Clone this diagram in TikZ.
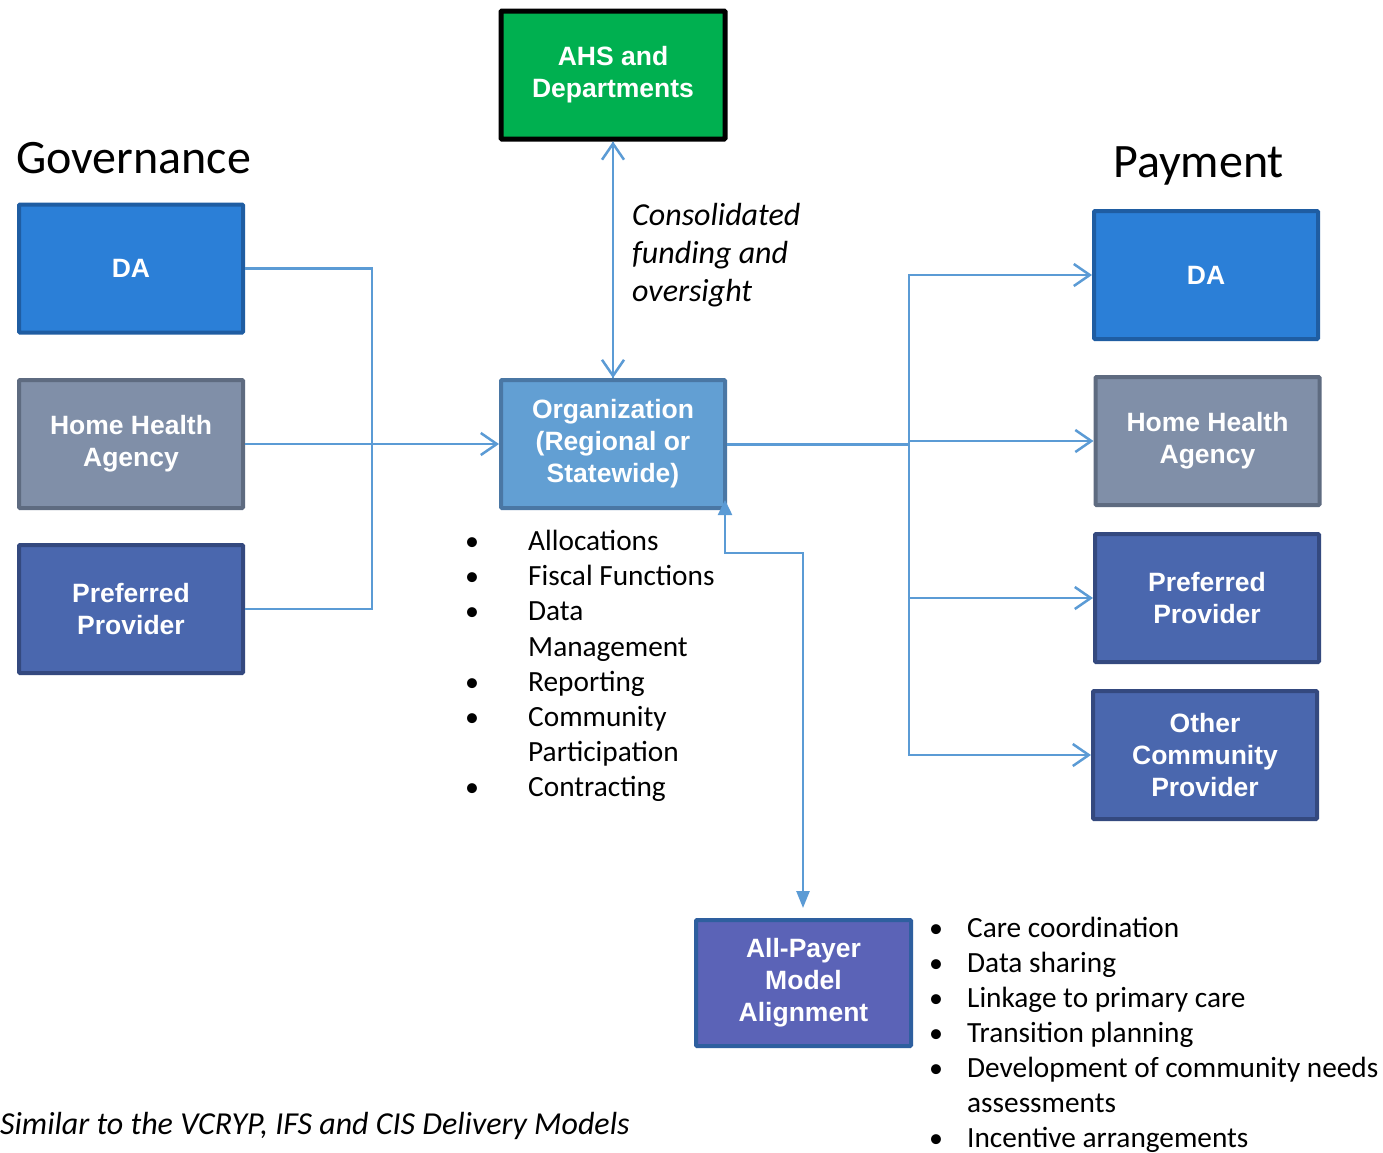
\documentclass[tikz,border=0pt]{standalone}
\usepackage{fontspec}
\setmainfont{Carlito}
\newfontfamily\boxfont{Liberation Sans}
\usetikzlibrary{positioning,arrows.meta}

\definecolor{linkblue}{HTML}{5B9BD5}
\definecolor{ahsgreen}{HTML}{00B050}
\definecolor{dafill}{HTML}{2B7FD7}
\definecolor{daline}{HTML}{1F5DA2}
\definecolor{hhafill}{HTML}{808FA8}
\definecolor{hhaline}{HTML}{5E6B80}
\definecolor{ppfill}{HTML}{4A67AE}
\definecolor{ppline}{HTML}{34497F}
\definecolor{orgfill}{HTML}{629FD3}
\definecolor{orgline}{HTML}{4A77A4}
\definecolor{apmfill}{HTML}{5B63B7}
\definecolor{apmline}{HTML}{2E5F9F}

\begin{document}
\begin{tikzpicture}[x=1pt,y=-1pt]
\tikzstyle{every node}+=[inner sep=0pt]
\tikzstyle{box}=[draw, line width=4pt, rounded corners=1pt, minimum width=224pt, minimum height=128pt, align=center, text=white, font=\boxfont\bfseries\fontsize{26.5}{32}\selectfont]
\tikzstyle{link}=[draw=linkblue, line width=2.5pt]
\tikzstyle{barb}=[-{Straight Barb[length=16pt,width=22pt,line width=2.5pt]}]
\tikzstyle{head}=[font=\fontsize{48}{52}\selectfont, anchor=base west]
\tikzstyle{note}=[font=\itshape\fontsize{32}{38}\selectfont, anchor=base west]
\tikzstyle{item}=[font=\fontsize{29.3}{35}\selectfont, anchor=base west]
\tikzstyle{dot}=[font=\fontsize{28}{35}\selectfont, anchor=base]
\useasboundingbox (0,0) rectangle (1383,1152);
\fill[white] (0,0) rectangle (1383,1152);
% headings
\node[head] (gov) at (16,173) {Governance};
\node[head] (pay) at (1113,177) {Payment};
% boxes
\node[box, fill=ahsgreen, draw=black, line width=5pt] (ahs) at (613,75) {AHS and\\Departments};
\node[box, fill=dafill, draw=daline] (gda) at (131,268.5) {DA};
\node[box, fill=hhafill, draw=hhaline] (ghha) at (131,444) {Home Health\\Agency};
\node[box, fill=ppfill, draw=ppline] (gpp) at (131,609) {Preferred\\Provider};
\node[box, fill=orgfill, draw=orgline] (org) at (613,444) {Organization\\(Regional or\\Statewide)};
\node[box, fill=dafill, draw=daline] (pda) at (1206,275) {DA};
\node[box, fill=hhafill, draw=hhaline] (phha) at (1207.5,441) {Home Health\\Agency};
\node[box, fill=ppfill, draw=ppline] (ppp) at (1207,598) {Preferred\\Provider};
\node[box, fill=ppfill, draw=ppline] (poth) at (1205,755) {Other\\Community\\Provider};
\node[box, fill=apmfill, draw=apmline, minimum width=215pt, minimum height=126pt] (apm) at (803.5,983) {All-Payer\\Model\\Alignment};
% governance side
\coordinate (lbus) at (372,443);
\draw[link] (gda.east) -| (lbus) |- (gpp.east);
\draw[link, barb] (ghha.east) -- (org.west);
% payment side
\coordinate (rbus) at (909,444);
\draw[link, line width=3pt] (org.east) -- (rbus);
\draw[link, barb] (rbus) |- (pda.west);
\draw[link, barb] (rbus) |- (phha.west);
\draw[link, barb] (rbus) |- (ppp.west);
\draw[link, barb] (rbus) |- (poth.west);
% funding
\draw[link, barb] (org.north) -- (ahs.south);
\draw[link, barb] (ahs.south) -- (org.north);
\node[note] (fund1) at (632,225) {Consolidated};
\node[note] (fund2) at (632,263) {funding and};
\node[note] (fund3) at (632,301) {oversight};
% all-payer link
\coordinate (orgtip) at (725,500);
\coordinate (elbow) at (803,553);
\coordinate (apmtip) at (803,908);
\draw[link, {Triangle[length=15pt,width=14pt]}-{Triangle[length=17pt,width=13pt]}] (orgtip) |- (elbow) -- (apmtip);
% organization functions
\node[dot] (o1) at (472,550) {•};
\node[item] (f1) at (528,550) {Allocations};
\node[dot] (o2) at (472,585) {•};
\node[item] (f2) at (528,585) {Fiscal Functions};
\node[dot] (o3) at (472,620) {•};
\node[item] (f3) at (528,620) {Data};
\node[item] (f3b) at (528,656) {Management};
\node[dot] (o4) at (472,691) {•};
\node[item] (f4) at (528,691) {Reporting};
\node[dot] (o5) at (472,726) {•};
\node[item] (f5) at (528,726) {Community};
\node[item] (f5b) at (528,761) {Participation};
\node[dot] (o6) at (472,796) {•};
\node[item] (f6) at (528,796) {Contracting};
% all-payer functions
\node[dot] (a1) at (936,937) {•};
\node[item] (p1) at (967,937) {Care coordination};
\node[dot] (a2) at (936,972) {•};
\node[item] (p2) at (967,972) {Data sharing};
\node[dot] (a3) at (936,1007) {•};
\node[item] (p3) at (967,1007) {Linkage to primary care};
\node[dot] (a4) at (936,1042) {•};
\node[item] (p4) at (967,1042) {Transition planning};
\node[dot] (a5) at (936,1077) {•};
\node[item] (p5) at (967,1077) {Development of community needs};
\node[item] (p5b) at (967,1112) {assessments};
\node[dot] (a6) at (936,1147) {•};
\node[item] (p6) at (967,1147) {Incentive arrangements};
% footnote
\node[note] (foot) at (0,1134) {Similar to the VCRYP, IFS and CIS Delivery Models};
\end{tikzpicture}
\end{document}
